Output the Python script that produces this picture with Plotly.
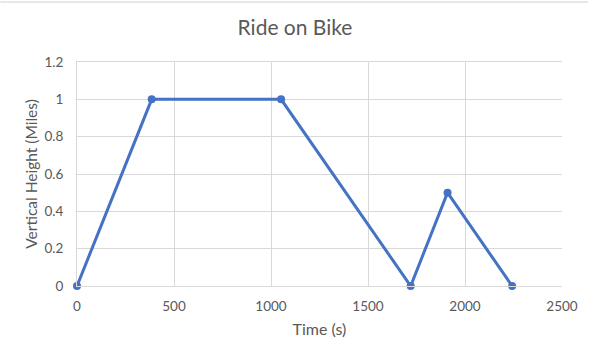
import plotly.graph_objects as go

time_s = [0, 385, 1052, 1720, 1910, 2243]
height_miles = [0, 1, 1, 0, 0.5, 0]
x_ticks = [0, 500, 1000, 1500, 2000, 2500]
y_ticks = [0, 0.2, 0.4, 0.6, 0.8, 1, 1.2]
y_tick_labels = ["0", "0.2", "0.4", "0.6", "0.8", "1", "1.2"]

FONT = "Lato"
GRAY = "#595959"
GRID = "#d9d9d9"

fig = go.Figure(go.Scatter(
    x=time_s, y=height_miles, mode="lines+markers",
    line=dict(color="#4472C4", width=3),
    marker=dict(color="#4472C4", size=8),
    cliponaxis=False,
    showlegend=False,
))

fig.update_layout(
    width=590, height=357,
    paper_bgcolor="white", plot_bgcolor="white",
    margin=dict(l=77, r=26, t=62, b=71),
    title=dict(text="Ride on Bike", x=0.5, xanchor="center", y=1 - 28 / 357, yanchor="middle",
               font=dict(family=FONT, size=21, color=GRAY)),
    font=dict(family=FONT, color=GRAY),
    xaxis=dict(range=[0, 2500], tickvals=x_ticks, showgrid=True, gridcolor=GRID, gridwidth=1,
               zeroline=False, showline=True, linecolor=GRID, mirror=True,
               ticks="outside", ticklen=8, tickcolor="rgba(0,0,0,0)",
               tickfont=dict(family=FONT, size=13.5, color=GRAY),
               title=dict(text="Time (s)", font=dict(family=FONT, size=16, color=GRAY), standoff=10)),
    yaxis=dict(range=[0, 1.2], tickvals=y_ticks, ticktext=y_tick_labels, showgrid=True,
               gridcolor=GRID, gridwidth=1, zeroline=False, showline=True, linecolor=GRID,
               ticks="outside", ticklen=10, tickcolor="rgba(0,0,0,0)",
               tickfont=dict(family=FONT, size=13.5, color=GRAY),
               title=dict(text="Vertical Height (Miles)", font=dict(family=FONT, size=15.5, color=GRAY), standoff=3)),
    shapes=[dict(type="line", xref="paper", yref="paper", x0=-77 / 487, x1=(590 - 77) / 487,
                 y0=1 + 60 / 224, y1=1 + 60 / 224, line=dict(color="#d0d0d0", width=1))],
)

fig.write_html("out.html", config={"displayModeBar": False},
               post_script="document.body.style.margin='0';document.body.style.overflow='hidden';")
